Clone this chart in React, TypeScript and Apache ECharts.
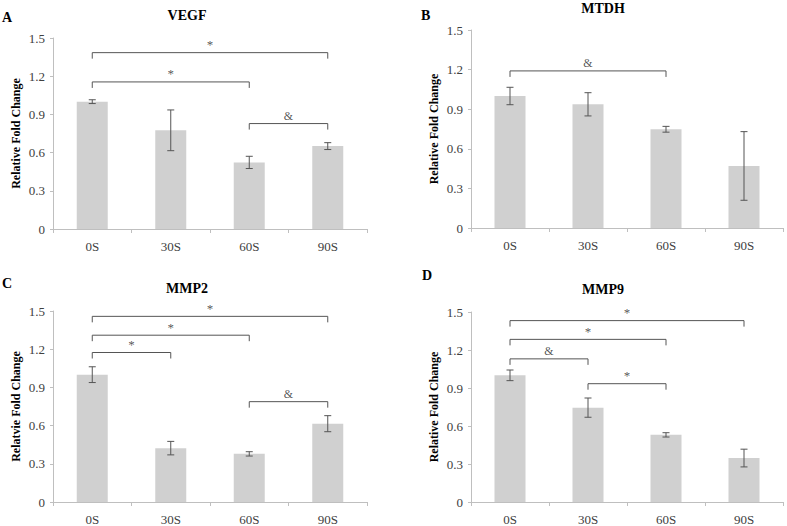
import React, { useEffect, useRef } from "react";
import * as echarts from "echarts";

const categories = ["0S", "30S", "60S", "90S"];

const vegfValues = [1.0, 0.775, 0.523, 0.651];
const vegfErrors = [0.015, 0.16, 0.048, 0.027];
const mtdhValues = [1.0, 0.937, 0.748, 0.47];
const mtdhErrors = [0.066, 0.088, 0.022, 0.26];
const mmp2Values = [1.0, 0.423, 0.378, 0.615];
const mmp2Errors = [0.062, 0.053, 0.017, 0.063];
const mmp9Values = [1.0, 0.745, 0.53, 0.347];
const mmp9Errors = [0.042, 0.076, 0.017, 0.07];

// [fromIndex, toIndex, yValue, label]
const vegfBrackets: [number, number, number, string][] = [
  [0, 3, 1.385, "*"],
  [0, 2, 1.155, "*"],
  [2, 3, 0.828, "&"],
];
const mtdhBrackets: [number, number, number, string][] = [[0, 2, 1.19, "&"]];
const mmp2Brackets: [number, number, number, string][] = [
  [0, 3, 1.458, "*"],
  [0, 2, 1.31, "*"],
  [0, 1, 1.174, "*"],
  [2, 3, 0.788, "&"],
];
const mmp9Brackets: [number, number, number, string][] = [
  [0, 3, 1.432, "*"],
  [0, 2, 1.284, "*"],
  [0, 1, 1.13, "&"],
  [1, 2, 0.934, "*"],
];

const yTicks = { min: 0, max: 1.5, interval: 0.3 };

const panels = [
  { letter: "A", title: "VEGF", yName: "Relative Fold Change", values: vegfValues, errors: vegfErrors, brackets: vegfBrackets },
  { letter: "B", title: "MTDH", yName: "Relative Fold Change", values: mtdhValues, errors: mtdhErrors, brackets: mtdhBrackets },
  { letter: "C", title: "MMP2", yName: "Relatvie Fold Change", values: mmp2Values, errors: mmp2Errors, brackets: mmp2Brackets },
  { letter: "D", title: "MMP9", yName: "Relative Fold Change", values: mmp9Values, errors: mmp9Errors, brackets: mmp9Brackets },
];

const FONT = "Liberation Serif";

const grids = [
  { left: 53, right: 420, top: 38, height: 191 },
  { left: 471, right: 4, top: 30, height: 198 },
  { left: 53, right: 420, top: 311, height: 191 },
  { left: 471, right: 4, top: 312, height: 191 },
];

const titlePos = [
  { tx: 187, ty: 15, lx: 2, ly: 17 },
  { tx: 603, ty: 8, lx: 421, ly: 15 },
  { tx: 187, ty: 288, lx: 2, ly: 283 },
  { tx: 603, ty: 289, lx: 422, ly: 275 },
];

export default function App() {
  const ref = useRef<HTMLDivElement>(null);
  useEffect(() => {
    if (!ref.current) return;
    const chart = echarts.init(ref.current, null, { renderer: "svg" });

    const xAxis: any[] = [];
    const yAxis: any[] = [];
    const series: any[] = [];
    const graphic: any[] = [];

    panels.forEach((p, i) => {
      xAxis.push({
        type: "category",
        gridIndex: i,
        data: categories,
        axisLine: { show: true, lineStyle: { color: "#bfbfbf", width: 1 } },
        axisTick: { show: true, length: 4, lineStyle: { color: "#bfbfbf" } },
        axisLabel: { color: "#404040", fontFamily: FONT, fontSize: 13, margin: 11 },
      });
      yAxis.push({
        type: "value",
        gridIndex: i,
        ...yTicks,
        name: p.yName,
        nameLocation: "middle",
        nameGap: 31,
        nameTextStyle: { fontFamily: FONT, fontSize: 12, fontWeight: "bold", color: "#000" },
        axisLine: { show: true, lineStyle: { color: "#bfbfbf", width: 1 } },
        axisTick: { show: true, length: 3, lineStyle: { color: "#bfbfbf" } },
        splitLine: { show: false },
        axisLabel: { color: "#404040", fontFamily: FONT, fontSize: 13, margin: 8 },
      });
      series.push({
        type: "bar",
        xAxisIndex: i,
        yAxisIndex: i,
        data: p.values,
        barWidth: 31,
        itemStyle: { color: "#d0d0d0" },
      });
      series.push({
        type: "custom",
        xAxisIndex: i,
        yAxisIndex: i,
        z: 5,
        itemStyle: { color: "#555" },
        data: p.values.map((v, k) => [k, v, p.errors[k]]),
        encode: { x: 0, y: 1 },
        renderItem: (params: any, api: any) => {
          const x = api.value(0);
          const v = api.value(1);
          const e = api.value(2);
          const top = api.coord([x, v + e]);
          const bot = api.coord([x, v - e]);
          const style = { stroke: "#555", lineWidth: 1 };
          return {
            type: "group",
            children: [
              { type: "line", shape: { x1: top[0], y1: top[1], x2: bot[0], y2: bot[1] }, style },
              { type: "line", shape: { x1: top[0] - 3.5, y1: top[1], x2: top[0] + 3.5, y2: top[1] }, style },
              { type: "line", shape: { x1: bot[0] - 3.5, y1: bot[1], x2: bot[0] + 3.5, y2: bot[1] }, style },
            ],
          };
        },
      });
      series.push({
        type: "custom",
        xAxisIndex: i,
        yAxisIndex: i,
        z: 5,
        clip: false,
        itemStyle: { color: "#555" },
        data: p.brackets.map((b) => [b[0], b[2], b[1]]),
        encode: { x: 0, y: 1 },
        renderItem: (params: any, api: any) => {
          const from = api.value(0);
          const yv = api.value(1);
          const to = api.value(2);
          const label = p.brackets[params.dataIndex][3];
          const a = api.coord([from, yv]);
          const b = api.coord([to, yv]);
          const style = { stroke: "#555", lineWidth: 1 };
          const isStar = label === "*";
          return {
            type: "group",
            children: [
              { type: "line", shape: { x1: a[0], y1: a[1], x2: b[0], y2: b[1] }, style },
              { type: "line", shape: { x1: a[0], y1: a[1], x2: a[0], y2: a[1] + 6 }, style },
              { type: "line", shape: { x1: b[0], y1: b[1], x2: b[0], y2: b[1] + 6 }, style },
              {
                type: "text",
                x: (a[0] + b[0]) / 2,
                y: a[1] - 8,
                style: {
                  text: label,
                  align: "center",
                  verticalAlign: "middle",
                  fontFamily: FONT,
                  fontSize: isStar ? 13 : 12,
                  fill: "#555",
                  opacity: 0.99,
                },
              },
            ],
          };
        },
      });
      const tp = titlePos[i];
      graphic.push({
        type: "text",
        x: tp.tx,
        y: tp.ty,
        style: { text: p.title, align: "center", verticalAlign: "middle", fontFamily: FONT, fontSize: 14, fontWeight: "bold", fill: "#000" },
      });
      graphic.push({
        type: "text",
        x: tp.lx,
        y: tp.ly,
        style: { text: p.letter, align: "left", verticalAlign: "middle", fontFamily: FONT, fontSize: 14, fontWeight: "bold", fill: "#000" },
      });
    });

    chart.setOption({
      animation: false,
      backgroundColor: "#fff",
      grid: grids.map((g) => ({ ...g, containLabel: false })),
      xAxis,
      yAxis,
      series,
      graphic,
    });
    return () => chart.dispose();
  }, []);
  return (
    <div
      ref={ref}
      style={{ position: "fixed", left: 0, top: 0, width: 787, height: 526, background: "#fff" }}
    />
  );
}
